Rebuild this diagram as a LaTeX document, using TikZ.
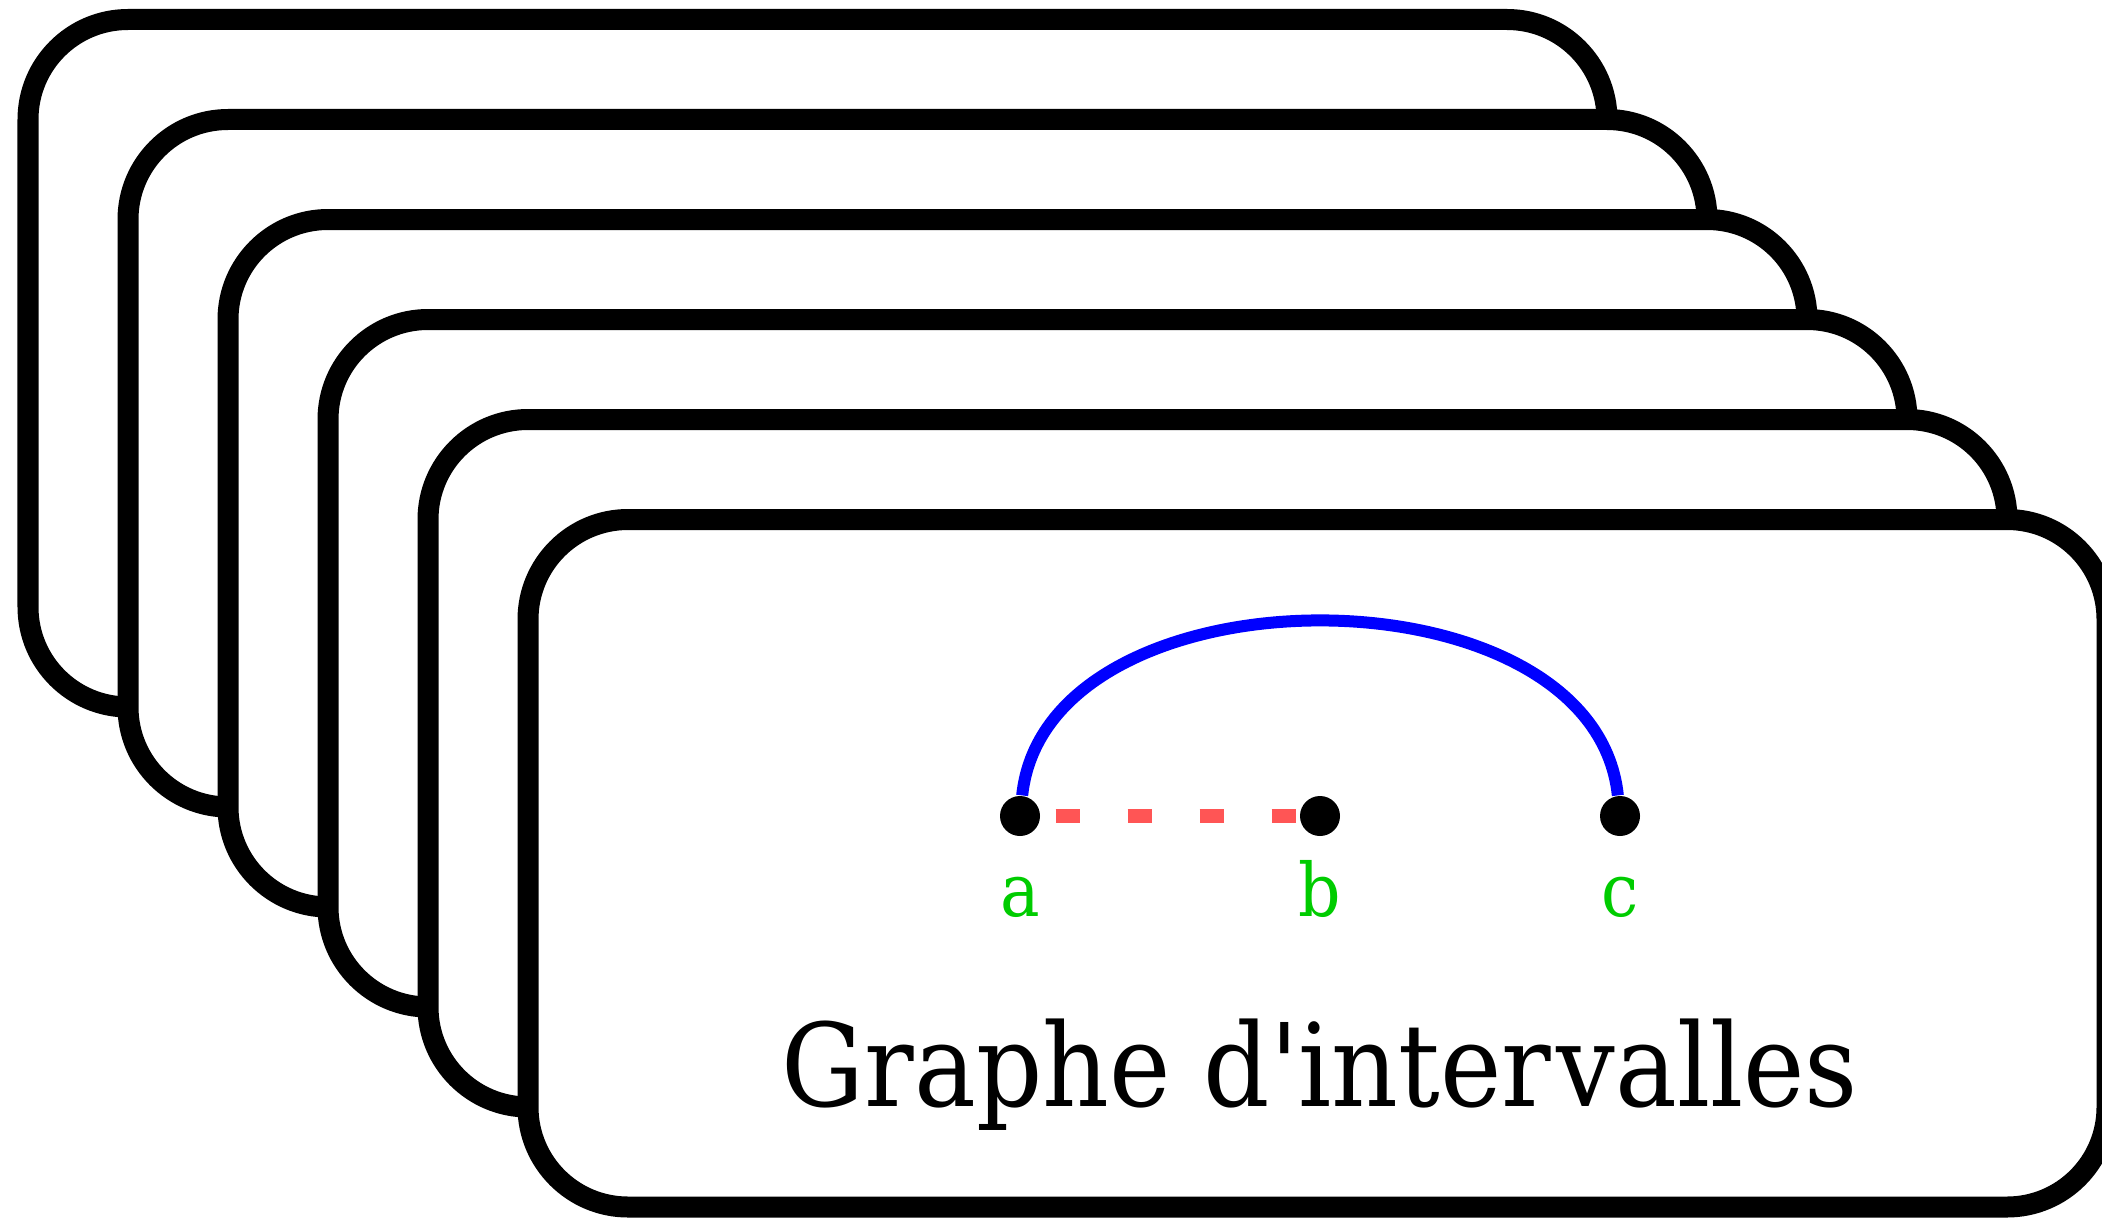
\documentclass[tikz,border=0pt]{standalone}
\usepackage{fontspec}
\setmainfont{DejaVu Serif Condensed}[Ligatures=TeXOff]
\usetikzlibrary{positioning,calc}
\definecolor{dashred}{RGB}{255,85,85}
\definecolor{labgreen}{RGB}{0,204,0}

\begin{document}
\begin{tikzpicture}[
  card/.style={draw=black,fill=white,line width=0.21cm,rounded corners=1cm},
  vertex/.style={circle,fill=black,inner sep=0pt,minimum size=0.4cm},
  lab/.style={text=labgreen,font=\fontsize{21}{25}\selectfont,anchor=base},
  title/.style={font=\fontsize{32.8}{38}\selectfont,anchor=base},
  ]
\useasboundingbox (0,0) rectangle (21.02,12.17);
\clip (0,0) rectangle (21.02,12.17);
% Step 1: stack of cards, back to front
\foreach \i in {0,...,5} {
  \draw[card] (0.28+\i,11.975-\i) rectangle +(15.79,-6.875);
}
% Step 2: the graph on the front card
\node[vertex] (a) at (10.2,4.01) {};
\node[vertex] (b) at (13.2,4.01) {};
\node[vertex] (c) at (16.2,4.01) {};
\draw[dashred,line width=0.14cm,dash pattern=on 0.24cm off 0.48cm,dash phase=0.57cm] (a) -- (b);
\draw[blue,line width=0.12cm] (a) to[out=84,in=96,looseness=1.01] (c);
\node[lab] (la) at ([yshift=-1cm]a.center) {a};
\node[lab] (lb) at ([yshift=-1cm]b.center) {b};
\node[lab] (lc) at ([yshift=-1cm]c.center) {c};
% Step 3: caption
\node[title] (name) at (13.2,1.11) {Graphe d'inter\kern0.05em valles};
\end{tikzpicture}
\end{document}
